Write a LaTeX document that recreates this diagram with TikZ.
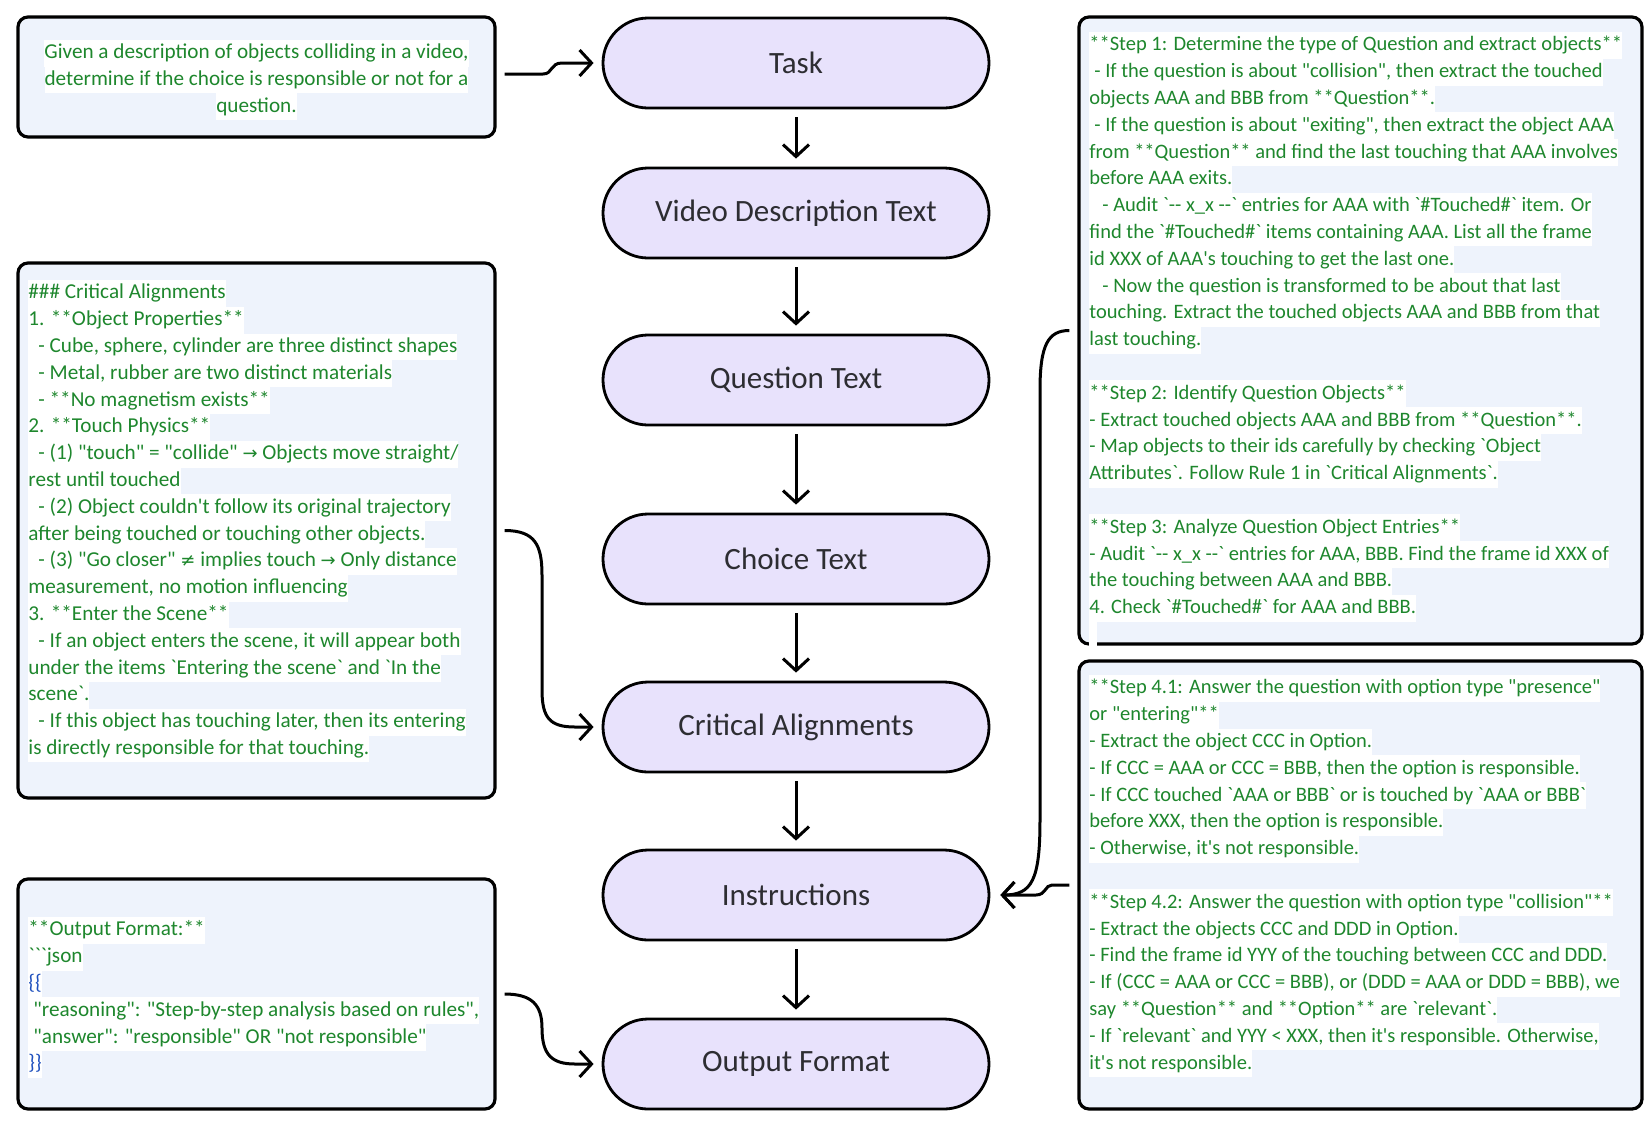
\documentclass[tikz,border=0pt]{standalone}
\usepackage{fontspec}
\newfontfamily\cf{Carlito}
\newfontfamily\symf{DejaVu Sans}
\usetikzlibrary{arrows.meta}
\definecolor{txtgreen}{RGB}{30,135,45}
\definecolor{boxfill}{RGB}{238,243,252}
\definecolor{pillfill}{RGB}{232,226,252}
\definecolor{bracecol}{RGB}{30,80,190}
\definecolor{pilltext}{RGB}{45,45,50}
\setlength{\fboxsep}{0pt}
\newcommand\hl[1]{\colorbox{white}{\vrule width 0pt height 9.4pt depth 4pt\relax #1}}
\newcommand\emptyln{\vrule width 0pt height 9.4pt depth 4pt\relax}
\newcommand\sarr{{\symf\fontsize{9pt}{13.4pt}\selectfont →}}
\newcommand\neqs{{\symf\fontsize{9pt}{13.4pt}\selectfont ≠}}
\newcommand\inda{\hspace*{5pt}}
\newcommand\indb{\hspace*{2.5pt}}
\newcommand\indc{\hspace*{6.5pt}}
\tikzset{
  box/.style={draw=black, line width=1.6pt, rounded corners=5pt, fill=boxfill, minimum width=238.5pt, inner sep=0pt},
  rbox/.style={box, minimum width=281.5pt},
  txt/.style={font=\cf\fontsize{10.6pt}{13.4pt}\selectfont, text=txtgreen, align=left, inner sep=0pt, anchor=north west},
  rtxt/.style={txt, font=\cf\fontsize{10.25pt}{13.4pt}\selectfont},
  pill/.style={draw=black, line width=1.4pt, fill=pillfill, rounded corners=22.5pt, minimum width=193pt, minimum height=45pt, font=\cf\fontsize{15.5pt}{17pt}\selectfont, text=pilltext},
  arr/.style={line width=1.5pt, -{Straight Barb[length=6pt,width=13pt]}},
}
\begin{document}
\begin{tikzpicture}[x=0.5pt,y=-0.5pt]
\useasboundingbox (0,0) rectangle (1650,1126);
\fill[white] (0,0) rectangle (1650,1126);

% left boxes
\node[box, minimum height=60pt] (tb) at (256.5,77) {};
\node[txt, anchor=center, align=center] (tbt) at (256.5,80) {\hl{Given a description of objects colliding in a video,}\\\hl{determine if the choice is responsible or not for a}\\\hl{question.}};

\node[box, minimum height=267.5pt] (ca) at (256.5,530.5) {};
\node[txt] (cat) at (28,279.6) {\hl{\#\#\# Critical Alignments}\\
\hl{1. **Object Properties**}\\
\hl{\inda - Cube, sphere, cylinder are three distinct shapes}\\
\hl{\inda - Metal, rubber are two distinct materials}\\
\hl{\inda - **No magnetism exists**}\\
\hl{2. **Touch Physics**}\\
\hl{\inda - (1) "touch" = "collide" \sarr{} Objects move straight/}\\
\hl{rest until touched}\\
\hl{\inda - (2) Object couldn't follow its original trajectory}\\
\hl{after being touched or touching other objects.}\\
\hl{\inda - (3) "Go closer" \neqs{} implies touch \sarr{} Only distance}\\
\hl{measurement, no motion influencing}\\
\hl{3. **Enter the Scene**}\\
\hl{\inda - If an object enters the scene, it will appear both}\\
\hl{under the items `Entering the scene` and `In the}\\
\hl{scene`.}\\
\hl{\inda - If this object has touching later, then its entering}\\
\hl{is directly responsible for that touching.}};

\node[box, minimum height=115pt] (of) at (256.5,994) {};
\node[txt] (oft) at (28,916.6) {\hl{**Output Format:**}\\
\hl{```json}\\
\hl{\textcolor{bracecol}{\{\{}}\\
\hl{\indb "reasoning": "Step-by-step analysis based on rules",}\\
\hl{\indb "answer": "responsible" OR "not responsible"}\\
\hl{\textcolor{bracecol}{\}\}}}};

% right boxes
\node[rbox, minimum height=313.5pt] (rb1) at (1360.5,330.5) {};
\node[rtxt] (rb1t) at (1089,31.6) {\hl{**Step 1: Determine the type of Question and extract objects**}\\
\hl{\indb - If the question is about "collision", then extract the touched}\\
\hl{objects AAA and BBB from **Question**.}\\
\hl{\indb - If the question is about "exiting", then extract the object AAA}\\
\hl{from **Question** and find the last touching that AAA involves}\\
\hl{before AAA exits.}\\
\hl{\indc - Audit `-- x\_x --` entries for AAA with `\#Touched\#` item. Or}\\
\hl{find the `\#Touched\#` items containing AAA. List all the frame}\\
\hl{id XXX of AAA's touching to get the last one.}\\
\hl{\indc - Now the question is transformed to be about that last}\\
\hl{touching. Extract the touched objects AAA and BBB from that}\\
\hl{last touching.}\\
\emptyln\\
\hl{**Step 2: Identify Question Objects**}\\
\hl{- Extract touched objects AAA and BBB from **Question**.}\\
\hl{- Map objects to their ids carefully by checking `Object}\\
\hl{Attributes`. Follow Rule 1 in `Critical Alignments`.}\\
\emptyln\\
\hl{**Step 3: Analyze Question Object Entries**}\\
\hl{- Audit `-- x\_x --` entries for AAA, BBB. Find the frame id XXX of}\\
\hl{the touching between AAA and BBB.}\\
\hl{4. Check `\#Touched\#` for AAA and BBB.}\\
\hl{\hspace*{4pt}}};

\node[rbox, minimum height=224pt] (rb2) at (1360.5,885) {};
\node[rtxt] (rb2t) at (1089,674.6) {\hl{**Step 4.1: Answer the question with option type "presence"}\\
\hl{or "entering"**}\\
\hl{- Extract the object CCC in Option.}\\
\hl{- If CCC = AAA or CCC = BBB, then the option is responsible.}\\
\hl{- If CCC touched `AAA or BBB` or is touched by `AAA or BBB`}\\
\hl{before XXX, then the option is responsible.}\\
\hl{- Otherwise, it's not responsible.}\\
\emptyln\\
\hl{**Step 4.2: Answer the question with option type "collision"**}\\
\hl{- Extract the objects CCC and DDD in Option.}\\
\hl{- Find the frame id YYY of the touching between CCC and DDD.}\\
\hl{- If (CCC = AAA or CCC = BBB), or (DDD = AAA or DDD = BBB), we}\\
\hl{say **Question** and **Option** are `relevant`.}\\
\hl{- If `relevant` and YYY < XXX, then it's responsible. Otherwise,}\\
\hl{it's not responsible.}};

% central pills
\node[pill] (task) at (796,63) {Task};
\node[pill] (video) at (796,213) {Video Description Text};
\node[pill] (quest) at (796,380) {Question Text};
\node[pill] (choice) at (796,559) {Choice Text};
\node[pill] (crit) at (796,727) {Critical Alignments};
\node[pill] (instr) at (796,895) {Instructions};
\node[pill] (outf) at (796,1064) {Output Format};

\foreach \a/\b in {task/video, video/quest, quest/choice, choice/crit, crit/instr, instr/outf}
  \draw[arr, shorten <=4pt, shorten >=4pt] (\a.south) -- (\b.north);

% side connectors
\draw[arr] ([xshift=4pt,yshift=1.5pt]tb.east) -- (543,74) .. controls (553,74) and (550,63) .. (562,63) -- ([xshift=-4pt]task.west);
\draw[arr] ([xshift=4pt]ca.east) .. controls (535,530.5) and (542,545) .. (542,575) -- (542,690) .. controls (542,718) and (550,727) .. (575,727) -- ([xshift=-4pt]crit.west);
\draw[arr] ([xshift=4pt]of.east) .. controls (532,994) and (542,1005) .. (542,1028) .. controls (542,1055) and (552,1064) .. (575,1064) -- ([xshift=-4pt]outf.west);
\draw[arr] ([xshift=-4pt]rb1.west) .. controls (1048,330.5) and (1040,345) .. (1040,390) -- (1040,820) .. controls (1040,880) and (1032,895) .. ([xshift=5pt]instr.east);
\draw[arr] ([xshift=-4pt]rb2.west) -- (1052,885) .. controls (1045,885) and (1046,895) .. (1036,895) -- ([xshift=5pt]instr.east);
\end{tikzpicture}
\end{document}
